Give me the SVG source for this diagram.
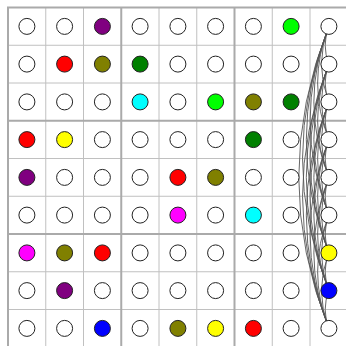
<svg xmlns="http://www.w3.org/2000/svg" width="346" height="346" viewBox="0 0 346 346">
<style>
.bg{fill:#fff}
.thin{stroke:#c0c0c0;stroke-width:1;fill:none}
.thick{stroke:#aaa;stroke-width:2;fill:none}
.e{stroke:#555;stroke-width:1;fill:none;stroke-opacity:0.9}
circle{stroke:#222;stroke-width:1}
.w{fill:#fff}.pu{fill:#800080}.r{fill:#f00}.o{fill:#808000}.g{fill:#008000}.c{fill:#0ff}.l{fill:#0f0}.y{fill:#ff0}.m{fill:#f0f}.b{fill:#00f}
</style>
<rect class="bg" x="0" y="0" width="346" height="346"/>
<g id="grid">
<path class="thin" d="M45.75 7.5V348M83.5 7.5V348M159 7.5V348M196.75 7.5V348M272.25 7.5V348M310 7.5V348M8 45.25H348M8 83H348M8 158.5H348M8 196.25H348M8 271.75H348M8 309.5H348"/>
<path class="thick" d="M8 6.5V348M121.25 7.5V348M234.5 7.5V348M7 7.5H348M8 120.75H348M8 234H348"/>
</g>
<g id="connectors">
<path class="e" d="M328.9 26.4Q321.45 45.25 328.9 64.1"/>
<path class="e" d="M328.9 26.4Q313.9 64.15 328.9 101.9"/>
<path class="e" d="M328.9 26.4Q306.35 83 328.9 139.6"/>
<path class="e" d="M328.9 26.4Q298.8 101.9 328.9 177.4"/>
<path class="e" d="M328.9 26.4Q291.25 120.75 328.9 215.1"/>
<path class="e" d="M328.9 26.4Q283.7 139.65 328.9 252.9"/>
<path class="e" d="M328.9 26.4Q276.15 158.5 328.9 290.6"/>
<path class="e" d="M328.9 26.4Q268.6 177.4 328.9 328.4"/>
<path class="e" d="M328.9 64.1Q321.45 83 328.9 101.9"/>
<path class="e" d="M328.9 64.1Q313.9 101.85 328.9 139.6"/>
<path class="e" d="M328.9 64.1Q306.35 120.75 328.9 177.4"/>
<path class="e" d="M328.9 64.1Q298.8 139.6 328.9 215.1"/>
<path class="e" d="M328.9 64.1Q291.25 158.5 328.9 252.9"/>
<path class="e" d="M328.9 64.1Q283.7 177.35 328.9 290.6"/>
<path class="e" d="M328.9 64.1Q276.15 196.25 328.9 328.4"/>
<path class="e" d="M328.9 101.9Q321.45 120.75 328.9 139.6"/>
<path class="e" d="M328.9 101.9Q313.9 139.65 328.9 177.4"/>
<path class="e" d="M328.9 101.9Q306.35 158.5 328.9 215.1"/>
<path class="e" d="M328.9 101.9Q298.8 177.4 328.9 252.9"/>
<path class="e" d="M328.9 101.9Q291.25 196.25 328.9 290.6"/>
<path class="e" d="M328.9 101.9Q283.7 215.15 328.9 328.4"/>
<path class="e" d="M328.9 139.6Q321.45 158.5 328.9 177.4"/>
<path class="e" d="M328.9 139.6Q313.9 177.35 328.9 215.1"/>
<path class="e" d="M328.9 139.6Q306.35 196.25 328.9 252.9"/>
<path class="e" d="M328.9 139.6Q298.8 215.1 328.9 290.6"/>
<path class="e" d="M328.9 139.6Q291.25 234 328.9 328.4"/>
<path class="e" d="M328.9 177.4Q321.45 196.25 328.9 215.1"/>
<path class="e" d="M328.9 177.4Q313.9 215.15 328.9 252.9"/>
<path class="e" d="M328.9 177.4Q306.35 234 328.9 290.6"/>
<path class="e" d="M328.9 177.4Q298.8 252.9 328.9 328.4"/>
<path class="e" d="M328.9 215.1Q321.45 234 328.9 252.9"/>
<path class="e" d="M328.9 215.1Q313.9 252.85 328.9 290.6"/>
<path class="e" d="M328.9 215.1Q306.35 271.75 328.9 328.4"/>
<path class="e" d="M328.9 252.9Q321.45 271.75 328.9 290.6"/>
<path class="e" d="M328.9 252.9Q313.9 290.65 328.9 328.4"/>
<path class="e" d="M328.9 290.6Q321.45 309.5 328.9 328.4"/>
</g>
<g id="n0-0"><circle class="w" cx="26.9" cy="26.4" r="8"/></g>
<g id="n0-1"><circle class="w" cx="64.6" cy="26.4" r="8"/></g>
<g id="n0-2"><circle class="pu" cx="102.4" cy="26.4" r="8"/></g>
<g id="n0-3"><circle class="w" cx="140.1" cy="26.4" r="8"/></g>
<g id="n0-4"><circle class="w" cx="177.9" cy="26.4" r="8"/></g>
<g id="n0-5"><circle class="w" cx="215.6" cy="26.4" r="8"/></g>
<g id="n0-6"><circle class="w" cx="253.4" cy="26.4" r="8"/></g>
<g id="n0-7"><circle class="l" cx="291.1" cy="26.4" r="8"/></g>
<g id="n0-8"><circle class="w" cx="328.9" cy="26.4" r="8"/></g>
<g id="n1-0"><circle class="w" cx="26.9" cy="64.1" r="8"/></g>
<g id="n1-1"><circle class="r" cx="64.6" cy="64.1" r="8"/></g>
<g id="n1-2"><circle class="o" cx="102.4" cy="64.1" r="8"/></g>
<g id="n1-3"><circle class="g" cx="140.1" cy="64.1" r="8"/></g>
<g id="n1-4"><circle class="w" cx="177.9" cy="64.1" r="8"/></g>
<g id="n1-5"><circle class="w" cx="215.6" cy="64.1" r="8"/></g>
<g id="n1-6"><circle class="w" cx="253.4" cy="64.1" r="8"/></g>
<g id="n1-7"><circle class="w" cx="291.1" cy="64.1" r="8"/></g>
<g id="n1-8"><circle class="w" cx="328.9" cy="64.1" r="8"/></g>
<g id="n2-0"><circle class="w" cx="26.9" cy="101.9" r="8"/></g>
<g id="n2-1"><circle class="w" cx="64.6" cy="101.9" r="8"/></g>
<g id="n2-2"><circle class="w" cx="102.4" cy="101.9" r="8"/></g>
<g id="n2-3"><circle class="c" cx="140.1" cy="101.9" r="8"/></g>
<g id="n2-4"><circle class="w" cx="177.9" cy="101.9" r="8"/></g>
<g id="n2-5"><circle class="l" cx="215.6" cy="101.9" r="8"/></g>
<g id="n2-6"><circle class="o" cx="253.4" cy="101.9" r="8"/></g>
<g id="n2-7"><circle class="g" cx="291.1" cy="101.9" r="8"/></g>
<g id="n2-8"><circle class="w" cx="328.9" cy="101.9" r="8"/></g>
<g id="n3-0"><circle class="r" cx="26.9" cy="139.6" r="8"/></g>
<g id="n3-1"><circle class="y" cx="64.6" cy="139.6" r="8"/></g>
<g id="n3-2"><circle class="w" cx="102.4" cy="139.6" r="8"/></g>
<g id="n3-3"><circle class="w" cx="140.1" cy="139.6" r="8"/></g>
<g id="n3-4"><circle class="w" cx="177.9" cy="139.6" r="8"/></g>
<g id="n3-5"><circle class="w" cx="215.6" cy="139.6" r="8"/></g>
<g id="n3-6"><circle class="g" cx="253.4" cy="139.6" r="8"/></g>
<g id="n3-7"><circle class="w" cx="291.1" cy="139.6" r="8"/></g>
<g id="n3-8"><circle class="w" cx="328.9" cy="139.6" r="8"/></g>
<g id="n4-0"><circle class="pu" cx="26.9" cy="177.4" r="8"/></g>
<g id="n4-1"><circle class="w" cx="64.6" cy="177.4" r="8"/></g>
<g id="n4-2"><circle class="w" cx="102.4" cy="177.4" r="8"/></g>
<g id="n4-3"><circle class="w" cx="140.1" cy="177.4" r="8"/></g>
<g id="n4-4"><circle class="r" cx="177.9" cy="177.4" r="8"/></g>
<g id="n4-5"><circle class="o" cx="215.6" cy="177.4" r="8"/></g>
<g id="n4-6"><circle class="w" cx="253.4" cy="177.4" r="8"/></g>
<g id="n4-7"><circle class="w" cx="291.1" cy="177.4" r="8"/></g>
<g id="n4-8"><circle class="w" cx="328.9" cy="177.4" r="8"/></g>
<g id="n5-0"><circle class="w" cx="26.9" cy="215.1" r="8"/></g>
<g id="n5-1"><circle class="w" cx="64.6" cy="215.1" r="8"/></g>
<g id="n5-2"><circle class="w" cx="102.4" cy="215.1" r="8"/></g>
<g id="n5-3"><circle class="w" cx="140.1" cy="215.1" r="8"/></g>
<g id="n5-4"><circle class="m" cx="177.9" cy="215.1" r="8"/></g>
<g id="n5-5"><circle class="w" cx="215.6" cy="215.1" r="8"/></g>
<g id="n5-6"><circle class="c" cx="253.4" cy="215.1" r="8"/></g>
<g id="n5-7"><circle class="w" cx="291.1" cy="215.1" r="8"/></g>
<g id="n5-8"><circle class="w" cx="328.9" cy="215.1" r="8"/></g>
<g id="n6-0"><circle class="m" cx="26.9" cy="252.9" r="8"/></g>
<g id="n6-1"><circle class="o" cx="64.6" cy="252.9" r="8"/></g>
<g id="n6-2"><circle class="r" cx="102.4" cy="252.9" r="8"/></g>
<g id="n6-3"><circle class="w" cx="140.1" cy="252.9" r="8"/></g>
<g id="n6-4"><circle class="w" cx="177.9" cy="252.9" r="8"/></g>
<g id="n6-5"><circle class="w" cx="215.6" cy="252.9" r="8"/></g>
<g id="n6-6"><circle class="w" cx="253.4" cy="252.9" r="8"/></g>
<g id="n6-7"><circle class="w" cx="291.1" cy="252.9" r="8"/></g>
<g id="n6-8"><circle class="y" cx="328.9" cy="252.9" r="8"/></g>
<g id="n7-0"><circle class="w" cx="26.9" cy="290.6" r="8"/></g>
<g id="n7-1"><circle class="pu" cx="64.6" cy="290.6" r="8"/></g>
<g id="n7-2"><circle class="w" cx="102.4" cy="290.6" r="8"/></g>
<g id="n7-3"><circle class="w" cx="140.1" cy="290.6" r="8"/></g>
<g id="n7-4"><circle class="w" cx="177.9" cy="290.6" r="8"/></g>
<g id="n7-5"><circle class="w" cx="215.6" cy="290.6" r="8"/></g>
<g id="n7-6"><circle class="w" cx="253.4" cy="290.6" r="8"/></g>
<g id="n7-7"><circle class="w" cx="291.1" cy="290.6" r="8"/></g>
<g id="n7-8"><circle class="b" cx="328.9" cy="290.6" r="8"/></g>
<g id="n8-0"><circle class="w" cx="26.9" cy="328.4" r="8"/></g>
<g id="n8-1"><circle class="w" cx="64.6" cy="328.4" r="8"/></g>
<g id="n8-2"><circle class="b" cx="102.4" cy="328.4" r="8"/></g>
<g id="n8-3"><circle class="w" cx="140.1" cy="328.4" r="8"/></g>
<g id="n8-4"><circle class="o" cx="177.9" cy="328.4" r="8"/></g>
<g id="n8-5"><circle class="y" cx="215.6" cy="328.4" r="8"/></g>
<g id="n8-6"><circle class="r" cx="253.4" cy="328.4" r="8"/></g>
<g id="n8-7"><circle class="w" cx="291.1" cy="328.4" r="8"/></g>
<g id="n8-8"><circle class="w" cx="328.9" cy="328.4" r="8"/></g>
</svg>
